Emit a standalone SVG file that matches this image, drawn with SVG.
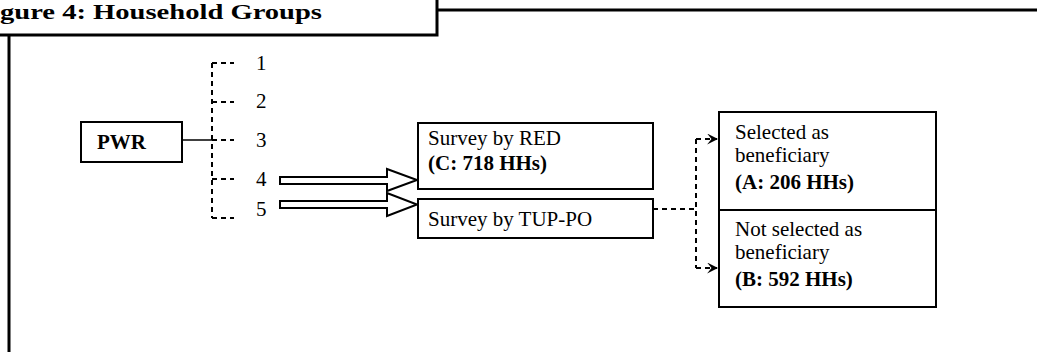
<svg xmlns="http://www.w3.org/2000/svg" width="1037" height="352" viewBox="0 0 1037 352">
<style>
  text { font-family: "Liberation Serif", "Times New Roman", serif; fill: #000; }
  .t { font-size: 21px; }
  .b { font-weight: bold; }
  .box { fill: #fff; stroke: #000; stroke-width: 2; }
  .frame { fill: none; stroke: #000; stroke-width: 3; }
  .dash { fill: none; stroke: #000; stroke-width: 2; stroke-dasharray: 5 4; }
  .solid { fill: none; stroke: #000; stroke-width: 1.5; }
  .hollow { fill: #fff; stroke: #000; stroke-width: 2; stroke-linejoin: miter; }
</style>
<defs>
  <marker id="chev" viewBox="0 0 10 10" refX="9" refY="5" markerWidth="11" markerHeight="11" markerUnits="userSpaceOnUse" orient="auto">
    <path d="M0,0 L10,5 L0,10 L4,5 Z" fill="#000"/>
  </marker>
</defs>
<rect width="1037" height="352" fill="#fff"/>

<g id="frame">
  <text x="0" y="19" font-size="22" class="b" textLength="322" lengthAdjust="spacingAndGlyphs">gure 4: Household Groups</text>
  <path class="frame" d="M0,35 H437 V0"/>
  <path class="frame" d="M437,10 H1037"/>
  <path class="frame" d="M9,35 V352"/>
</g>

<g id="connectors">
  <path class="solid" d="M182,140 H212"/>
  <path class="dash" d="M212,63 V218"/>
  <path class="dash" d="M212,63 H234 M212,102 H234 M212,140 H234 M212,179 H234 M212,218 H234"/>
  <path class="hollow" d="M280,177 H387 V169 L417,180 L387,191 V184 H280 Z"/>
  <path class="hollow" d="M280,201 H387 V193 L417,204.5 L387,216 V208 H280 Z"/>
  <path class="dash" d="M653,209 H696"/>
  <path class="dash" d="M696,139 V268"/>
  <path class="dash" d="M696,139 H717" stroke-dasharray="none" marker-end="url(#chev)"/>
  <path class="dash" d="M696,268 H717" stroke-dasharray="none" marker-end="url(#chev)"/>
</g>

<g id="labels">
  <text class="t" x="256" y="70">1</text>
  <text class="t" x="256" y="108">2</text>
  <text class="t" x="256" y="147">3</text>
  <text class="t" x="256" y="186">4</text>
  <text class="t" x="256" y="216">5</text>
</g>

<g id="pwr">
  <rect class="box" x="81" y="122" width="101" height="40"/>
  <text class="t b" x="97" y="149">PWR</text>
</g>

<g id="survey-red">
  <rect class="box" x="418" y="123" width="235" height="66"/>
  <text class="t" x="428" y="145">Survey by RED</text>
  <text class="t b" x="428" y="170">(C: 718 HHs)</text>
</g>

<g id="survey-tup">
  <rect class="box" x="418" y="199" width="235" height="39"/>
  <text class="t" x="428" y="226">Survey by TUP-PO</text>
</g>

<g id="selected">
  <rect class="box" x="719" y="112" width="217" height="98"/>
  <text class="t" x="735" y="139">Selected as</text>
  <text class="t" x="735" y="162">beneficiary</text>
  <text class="t b" x="735" y="189">(A: 206 HHs)</text>
</g>

<g id="not-selected">
  <rect class="box" x="719" y="210" width="217" height="97"/>
  <text class="t" x="735" y="236">Not selected as</text>
  <text class="t" x="735" y="259">beneficiary</text>
  <text class="t b" x="735" y="286">(B:  592 HHs)</text>
</g>
</svg>
